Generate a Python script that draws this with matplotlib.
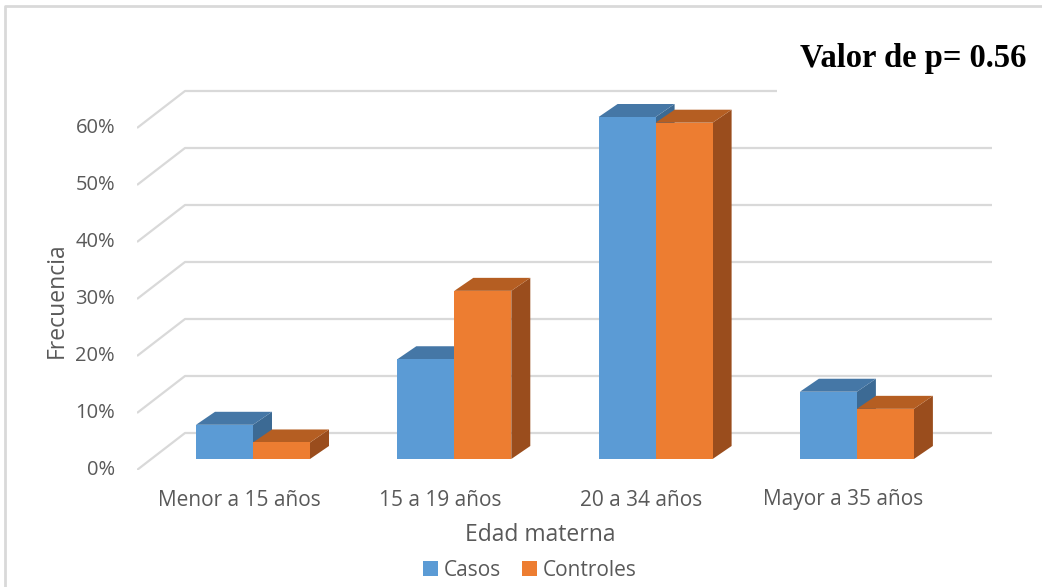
import matplotlib
matplotlib.use("Agg")
import matplotlib.pyplot as plt
from matplotlib.patches import Polygon, Rectangle
from matplotlib.transforms import offset_copy
from matplotlib.lines import Line2D

# Data
categories = ["Menor a 15 años", "15 a 19 años", "20 a 34 años", "Mayor a 35 años"]
casos = [6.0, 17.5, 60.0, 11.8]
controles = [2.9, 29.5, 59.0, 8.8]
ticks = [0, 10, 20, 30, 40, 50, 60]
tick_labels = ["0%", "10%", "20%", "30%", "40%", "50%", "60%"]
series_names = ["Casos", "Controles"]

# Colours: front, top, side
blue = ("#5B9BD5", "#4577A6", "#3C6A94")
orange = ("#ED7D31", "#B55E22", "#9A4D1D")
grid_c = "#D9D9D9"
text_c = "#595959"
font = "Open Sans"

W, H = 1042, 587
fig = plt.figure(figsize=(W / 100, H / 100), dpi=100)

# Axes placed so that x is in category units and y in percent
px_left, px_right, px_bottom, px_top = 137, 992, 470, 85
ax = fig.add_axes([px_left / W, 1 - px_bottom / H,
                   (px_right - px_left) / W, (px_bottom - px_top) / H])
xscale = 201.3   # px per category
yscale = 5.7     # px per percent
x0_px, y0_px = 253, 459
ax.set_xlim((px_left - x0_px) / xscale, (px_right - x0_px) / xscale)
ax.set_ylim(-(px_bottom - y0_px) / yscale, (y0_px - px_top) / yscale)
ax.axis("off")

xmin, xmax = ax.get_xlim()
front_dy = -(px_bottom - y0_px) / yscale       # front floor edge offset
back_dx = (185 - px_left) / xscale               # depth of back wall (x)
back_dy = (y0_px - 433) / yscale                 # back wall 0% offset

# Gridlines: diagonal on the side wall, horizontal on the back wall
for t in ticks:
    ax.plot([xmin, xmin + back_dx, xmax],
            [t + front_dy, t + back_dy, t + back_dy],
            color=grid_c, lw=1.6, zorder=1, solid_capstyle="butt")

# Percent labels at the front edge of the side wall
lbl_tr = offset_copy(ax.transData, fig=fig, x=-22, y=0, units="dots")
for t, lab in zip(ticks, tick_labels):
    ax.text(xmin, t + front_dy, lab, transform=lbl_tr, ha="right",
            va="center", fontsize=14.5, color=text_c, family=font)

bw = 57 / xscale
ddx = 19 / xscale
ddy = 13 / yscale


def bar3d(x, h, cols, z):
    front, top, side = cols
    ax.add_patch(Polygon([(x + bw, 0), (x + bw + ddx, ddy),
                          (x + bw + ddx, h + ddy), (x + bw, h)],
                         closed=True, fc=side, ec="none", zorder=z))
    ax.add_patch(Polygon([(x, h), (x + bw, h), (x + bw + ddx, h + ddy),
                          (x + ddx, h + ddy)],
                         closed=True, fc=top, ec="none", zorder=z))
    ax.add_patch(Rectangle((x, 0), bw, h, fc=front, ec="none", zorder=z))


for i, (c, k) in enumerate(zip(casos, controles)):
    bar3d(i - bw, c, blue, 3)
    bar3d(i, k, orange, 4)

# Category labels
for i, cat in enumerate(categories):
    ax.text(i - 14 / xscale, -(500 - y0_px) / yscale, cat, ha="center",
            va="center", fontsize=15, color=text_c, family=font,
            clip_on=False)

# Axis titles
fig.text(540 / W, 1 - 535 / H, "Edad materna", ha="center", va="center",
         fontsize=16.5, color=text_c, family=font)
fig.text(57 / W, 1 - 300 / H, "Frecuencia", ha="center", va="center",
         rotation=90, fontsize=16.5, color=text_c, family=font)

# Legend
handles = [Rectangle((0, 0), 1, 1, fc=blue[0], ec="none"),
           Rectangle((0, 0), 1, 1, fc=orange[0], ec="none")]
leg = fig.legend(handles, series_names, loc="center",
                 bbox_to_anchor=(530 / W, 1 - 570 / H), ncol=2, frameon=False,
                 prop={"family": font, "size": 15},
                 handlelength=0.7, handleheight=0.7, handletextpad=0.3,
                 columnspacing=1.0, borderpad=0)
for t in leg.get_texts():
    t.set_color(text_c)

# p-value annotation
fig.text(913 / W, 1 - 58 / H, "Valor de p= 0.56", ha="center", va="center",
         fontsize=23.5, fontweight="bold", family="Liberation Serif",
         color="black",
         bbox=dict(boxstyle="square,pad=0.7", fc="white", ec="none"),
         zorder=10)

# Chart border (top and left edges)
fig.add_artist(Line2D([5 / W, 5 / W, 1.0], [0.0, 1 - 6 / H, 1 - 6 / H],
                      color=grid_c, lw=2, zorder=20))

fig.savefig("out.png", dpi=100, facecolor="white")
